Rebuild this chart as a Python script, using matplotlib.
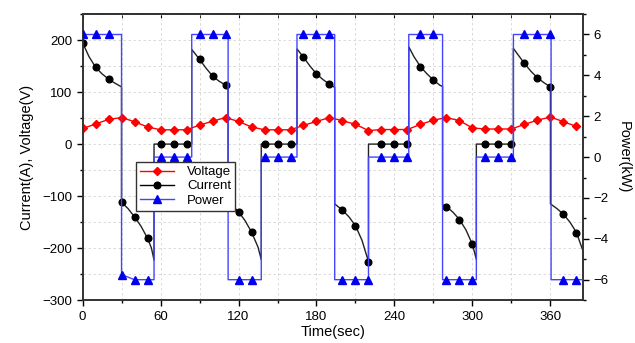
import numpy as np
import matplotlib.pyplot as plt
from matplotlib.lines import Line2D
from matplotlib.ticker import MultipleLocator

plt.rcParams['font.family'] = ['Liberation Sans', 'DejaVu Sans']

# muestras cada 10 s
t_muestras = np.arange(0, 390, 10)

voltaje = [30, 38.5, 47.5, 51, 43, 33, 27.5, 27.5, 27.5, 36.5,
           44, 51, 43.5, 33, 27.5, 27.5, 27.5, 36, 43.5, 51,
           45, 38, 26, 28, 28, 28, 38, 46, 51, 45,
           31, 29, 29, 29, 38, 46, 52, 43, 34]

corriente = [195, 148, 125, -112, -140, -181, 0, 0, 0, 163,
             131, 113.5, -130, -169, 0, 0, 0, 167, 135, 115,
             -127, -157, -226, 0, 0, 0, 149, 123, -120, -145,
             -193, 0, 0, 0, 155, 127.5, 110, -135, -170]

potencia = [6, 6, 6, -5.75, -6, -6, 0, 0, 0, 6,
            6, 6, -6, -6, 0, 0, 0, 6, 6, 6,
            -6, -6, -6, 0, 0, 0, 6, 6, -6, -6,
            -6, 0, 0, 0, 6, 6, 6, -6, -6]

# linea de potencia (escalones)
t_pot = [0, 30, 30, 40, 55, 55, 84, 84, 112, 112, 137.5, 137.5, 165, 165, 194, 194,
         220, 220, 251, 251, 277, 277, 303, 303, 331.5, 331.5, 360.5, 360.5, 385]
v_pot = [6, 6, -5.75, -6, -6, 0, 0, 6, 6, -6, -6, 0, 0, 6, 6, -6,
         -6, 0, 0, 6, 6, -6, -6, 0, 0, 6, 6, -6, -6]

# linea de corriente (curvas)
t_cor = [0, 5, 10, 15, 20, 25, 30, 30, 35, 40, 45, 50, 53, 55, 55, 84,
         84, 90, 95, 100, 105, 110, 112, 112, 120, 125, 130, 135, 137.5, 137.5, 165,
         165, 170, 175, 180, 185, 190, 194, 194, 200, 205, 210, 215, 220, 220, 251,
         251, 255, 260, 265, 270, 275, 277, 277, 280, 285, 290, 295, 300, 303, 303, 331.5,
         331.5, 335, 340, 345, 350, 355, 360, 360, 365, 370, 375, 380, 385]
v_cor = [195, 168, 148, 135, 125, 117, 110, -112, -124, -140, -158, -181, -200, -223, 0, 0,
         182, 163, 146, 131, 121, 113.5, 110, -110, -130, -147, -169, -198, -222, 0, 0,
         183, 167, 150, 135, 124, 115, 109, -115, -127, -140, -157, -185, -226, 0, 0,
         187, 168, 149, 135, 123, 113, 111, -117, -120, -131, -145, -165, -193, -222, 0, 0,
         184, 172, 155, 140, 127.5, 118, 110, -115, -124, -135, -150, -170, -205]

fig = plt.figure(figsize=(6.35, 3.43), dpi=100)
ax = fig.add_axes([0.130, 0.125, 0.788, 0.834])
ax2 = ax.twinx()

ax.plot(t_cor, v_cor, color='#222222', lw=1.0, zorder=3)
ax.plot(t_muestras, corriente, 'o', color='black', ms=4.8, zorder=4)
ax.plot(t_muestras, voltaje, '-D', color='red', ms=4.2, lw=1.0, zorder=4)
ax2.plot(t_pot, v_pot, color='#4444ff', lw=1.0, zorder=3)
ax2.plot(t_muestras, potencia, '^', color='#0000ee', ms=5.2, zorder=4)

ax.set_xlim(0, 385)
ax.set_ylim(-300, 250)
ax2.set_ylim(-7, 7)

ax.xaxis.set_major_locator(MultipleLocator(60))
ax.xaxis.set_minor_locator(MultipleLocator(30))
ax.yaxis.set_major_locator(MultipleLocator(100))
ax.yaxis.set_minor_locator(MultipleLocator(50))
ax2.yaxis.set_major_locator(MultipleLocator(2))
ax2.yaxis.set_minor_locator(MultipleLocator(1))

ax.grid(True, which='both', color='#d5d5d5', ls=(0, (3, 3)), lw=0.6)
ax.set_axisbelow(True)

ax.tick_params(which='major', direction='out', length=4, width=1, labelsize=9.5)
ax.tick_params(which='minor', direction='out', length=2.5, width=1)
ax2.tick_params(which='major', direction='out', length=4, width=1, labelsize=9.5)
ax2.tick_params(which='minor', direction='out', length=2.5, width=1)
arriba = ax.secondary_xaxis('top')
arriba.xaxis.set_major_locator(MultipleLocator(60))
arriba.xaxis.set_minor_locator(MultipleLocator(30))
arriba.tick_params(which='both', direction='in', length=3, labeltop=False)

for s in list(ax.spines.values()) + list(ax2.spines.values()) + list(arriba.spines.values()):
    s.set_linewidth(1.2)
    s.set_color('#333333')

ax.set_xlabel('Time(sec)', fontsize=10.5, labelpad=2)
ax.set_ylabel('Current(A), Voltage(V)', fontsize=10.5, labelpad=6)
ax2.set_ylabel('Power(kW)', fontsize=10.5, rotation=-90, labelpad=16)

manijas = [Line2D([], [], color='red', marker='D', ms=4.2, lw=1.0),
           Line2D([], [], color='black', marker='o', ms=4.8, lw=1.0),
           Line2D([], [], color='#4444ff', marker='^', mfc='#0000ee', mec='#0000ee', ms=5.2, lw=1.0)]
leg = ax2.legend(manijas, ['Voltage', 'Current', 'Power'], loc='upper left',
                 bbox_to_anchor=(0.106, 0.483), fontsize=9.5, fancybox=False,
                 framealpha=1, edgecolor='#333333', borderpad=0.3, labelspacing=0.15,
                 handlelength=2.6, handletextpad=1.0, borderaxespad=0)
leg.get_frame().set_linewidth(1.0)

fig.savefig('out.png', dpi=100)
